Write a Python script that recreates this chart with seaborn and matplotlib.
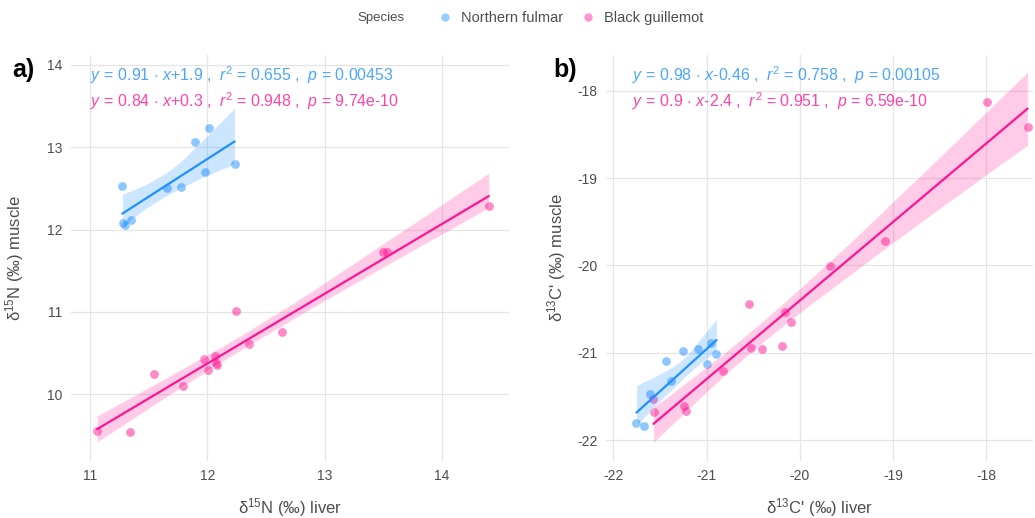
import numpy as np
import pandas as pd
import matplotlib
matplotlib.use("Agg")
import matplotlib.pyplot as plt
from matplotlib.lines import Line2D
import seaborn as sns

# ---- data ----
species = ["Northern fulmar", "Black guillemot"]
colors = ["#1E90FF", "#FF1493"]

fulmar_n_liver = [11.275, 11.284, 11.30, 11.35, 11.654, 11.778, 11.898, 12.017, 11.98, 12.233]
fulmar_n_muscle = [12.533, 12.084, 12.056, 12.117, 12.509, 12.514, 13.068, 13.23, 12.704, 12.797]
guill_n_liver = [11.06, 11.338, 11.543, 11.796, 11.972, 12.006, 12.063, 12.08, 12.07, 12.245,
                 12.353, 12.637, 13.495, 13.532, 14.40]
guill_n_muscle = [9.554, 9.538, 10.247, 10.10, 10.43, 10.29, 10.47, 10.36, 10.38, 11.016,
                  10.607, 10.753, 11.726, 11.726, 12.287]

fulmar_c_liver = [-21.753, -21.67, -21.603, -21.438, -21.381, -21.252, -21.091, -20.995, -20.952, -20.895]
fulmar_c_muscle = [-21.809, -21.84, -21.47, -21.092, -21.321, -20.984, -20.954, -21.133, -20.886, -21.012]
guill_c_liver = [-21.571, -21.567, -21.241, -21.217, -20.826, -20.544, -20.523, -20.405, -20.193,
                 -20.165, -20.097, -19.675, -19.085, -17.998, -17.558]
guill_c_muscle = [-21.53, -21.676, -21.607, -21.671, -21.213, -20.445, -20.943, -20.958, -20.923,
                  -20.534, -20.645, -20.003, -19.717, -18.133, -18.416]

eq_a = [r"$\mathit{y}\,=\,0.91\,\cdot\,\mathit{x}$+1.9 ,  $\mathit{r}^2$ = 0.655 ,  $\mathit{p}$ = 0.00453",
        r"$\mathit{y}\,=\,0.84\,\cdot\,\mathit{x}$+0.3 ,  $\mathit{r}^2$ = 0.948 ,  $\mathit{p}$ = 9.74e-10"]
eq_b = [r"$\mathit{y}\,=\,0.98\,\cdot\,\mathit{x}$-0.46 ,  $\mathit{r}^2$ = 0.758 ,  $\mathit{p}$ = 0.00105",
        r"$\mathit{y}\,=\,0.9\,\cdot\,\mathit{x}$-2.4 ,  $\mathit{r}^2$ = 0.951 ,  $\mathit{p}$ = 6.59e-10"]

xticks_a = [11, 12, 13, 14]
yticks_a = [10, 11, 12, 13, 14]
xticks_b = [-22, -21, -20, -19, -18]
yticks_b = [-22, -21, -20, -19, -18]

# ---- style ----
sns.set_theme(style="white")
plt.rcParams["font.family"] = ["Liberation Sans", "DejaVu Sans"]
plt.rcParams["mathtext.fontset"] = "custom"
plt.rcParams["mathtext.rm"] = "Liberation Sans"
plt.rcParams["mathtext.it"] = "Liberation Sans:italic"
plt.rcParams["mathtext.bf"] = "Liberation Sans:bold"
plt.rcParams["axes.unicode_minus"] = False

fig = plt.figure(figsize=(10.35, 5.18), dpi=100)
ax_a = fig.add_axes([71 / 1035, 1 - 461 / 518, 438 / 1035, 406 / 518])
ax_b = fig.add_axes([606 / 1035, 1 - 461 / 518, 427 / 1035, 406 / 518])

grey = "#4D4D4D"


def panel(ax, xs, ys, eqs, xlim, ylim, xticks, yticks, xlabel, ylabel, tag, eqx, ylpad, tagx):
    for i, (x, y) in enumerate(zip(xs, ys)):
        df = pd.DataFrame({"x": x, "y": y})
        n_before = len(ax.collections)
        sns.regplot(data=df, x="x", y="y", ax=ax, color=colors[i], ci=95, n_boot=2000, seed=3,
                    truncate=True,
                    scatter_kws={"s": 40, "alpha": 0.5, "linewidths": 0, "zorder": 2},
                    line_kws={"lw": 1.6, "zorder": 4})
        for coll in ax.collections[n_before:]:
            if coll.__class__.__name__ in ("PolyCollection", "FillBetweenPolyCollection"):
                coll.set_alpha(0.22)
                coll.set_zorder(3)
        ax.text(eqx, [0.951, 0.887][i], eqs[i], transform=ax.transAxes, color=colors[i],
                alpha=0.8, fontsize=11.4, va="center", ha="left")
    ax.set_xlim(*xlim)
    ax.set_ylim(*ylim)
    ax.set_xticks(xticks)
    ax.set_yticks(yticks)
    ax.grid(True, color="#E5E5E5", lw=0.9)
    ax.set_axisbelow(True)
    for s in ax.spines.values():
        s.set_visible(False)
    ax.tick_params(axis="both", length=0, labelsize=10, labelcolor=grey, pad=6)
    ax.set_xlabel(xlabel, fontsize=12, color=grey, labelpad=9)
    ax.set_ylabel(ylabel, fontsize=12, color=grey, labelpad=ylpad)
    fig.text(tagx / 1035, 1 - 70 / 518, tag, fontsize=18,
             fontweight="bold", color="black", ha="center", va="center")


panel(ax_a, [fulmar_n_liver, guill_n_liver], [fulmar_n_muscle, guill_n_muscle], eq_a,
      (10.838, 14.572), (9.19, 14.12), xticks_a, yticks_a,
      "δ$^{15}$N (‰) liver", "δ$^{15}$N (‰) muscle", "a)", 0.043, 15, 23)
panel(ax_b, [fulmar_c_liver, guill_c_liver], [fulmar_c_muscle, guill_c_muscle], eq_b,
      (-22.08, -17.5), (-22.24, -17.59), xticks_b, yticks_b,
      "δ$^{13}$C' (‰) liver", "δ$^{13}$C' (‰) muscle", "b)", 0.062, 7, 565)

# legend
fig.text(381 / 1035, 1 - 18 / 518, "Species", fontsize=9.5, color=grey, ha="center", va="center")
handles = [Line2D([], [], marker="o", ls="", color=c, alpha=0.45, markersize=6, markeredgewidth=0)
           for c in colors]
fig.legend(handles, species, loc="center left", bbox_to_anchor=(428 / 1035, 1 - 18 / 518),
           ncol=2, frameon=False, fontsize=10.5, labelcolor=grey, handletextpad=0.35,
           columnspacing=1.0, borderaxespad=0, handlelength=1.5)

fig.savefig("out.png", dpi=100)
